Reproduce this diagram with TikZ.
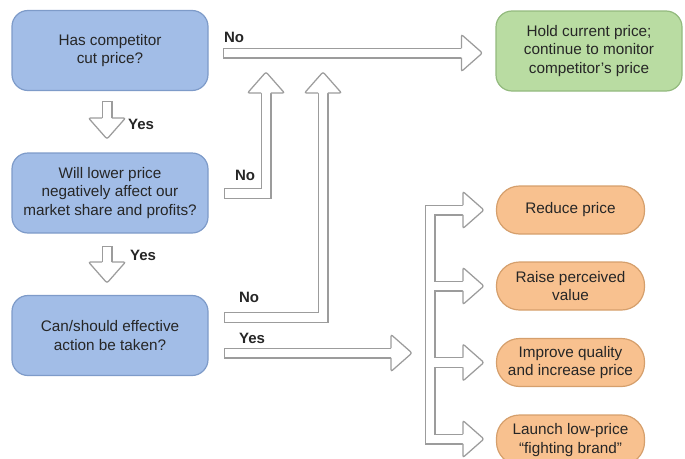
\documentclass[tikz,border=0pt]{standalone}
\usepackage{fontspec}
\setmainfont{Liberation Sans}
\usetikzlibrary{calc}

\definecolor{qfill}{HTML}{A2BDE7}
\definecolor{qdraw}{HTML}{7E9BC9}
\definecolor{gfill}{HTML}{B9DCA2}
\definecolor{gdraw}{HTML}{93BA7E}
\definecolor{ofill}{HTML}{F8C18F}
\definecolor{odraw}{HTML}{D59F6C}
\definecolor{txt}{HTML}{262626}
\definecolor{arrowline}{HTML}{9C9C9C}

\tikzset{
  boxtext/.style={font=\fontsize{15.3}{18.5}\selectfont, text=txt, align=center},
  question/.style={boxtext, draw=qdraw, fill=qfill, line width=1.2pt,
    rounded corners=16pt, minimum width=196pt, minimum height=80pt, inner sep=0pt},
  outcome/.style={boxtext, draw=gdraw, fill=gfill, line width=1.2pt,
    rounded corners=16pt, minimum width=186pt, minimum height=80pt, inner sep=0pt},
  action/.style={boxtext, draw=odraw, fill=ofill, line width=1.2pt,
    rounded corners=23pt, minimum width=148pt, minimum height=48pt, inner sep=0pt},
  lbl/.style={font=\bfseries\fontsize{15}{17}\selectfont, text=txt, inner sep=0pt},
  % hollow block-arrow shaft: grey outer stroke, white core
  shaft/.style={draw=white, line width=8.5pt, line cap=rect,
    preaction={draw=arrowline, line width=11pt, line cap=rect}},
  bhead/.pic={
    \filldraw[fill=white, draw=arrowline, line width=1.25pt, rounded corners=2pt]
      (0,4.875) -- (0,18.5) -- (21,0) -- (0,-18.5) -- (0,-4.875);
  }
}

\begin{document}
\begin{tikzpicture}[x=1pt, y=-1pt]
\useasboundingbox (0,0) rectangle (685,458);

% decision boxes
\node[question] (q1) at (110,50.5) {Has competitor\\cut price?};
\node[question] (q2) at (110,193) {Will lower price\\negatively affect our\\market share and profits?};
\node[question] (q3) at (110,335.5) {Can/should effective\\action be taken?};

% outcome boxes
\node[outcome] (hold) at (589,51) {Hold current price;\\continue to monitor\\competitor's price};
\node[action] (o1) at (570.5,210) {Reduce price};
\node[action] (o2) at (570.5,286) {Raise perceived\\value};
\node[action] (o3) at (570.5,362.5) {Improve quality\\and increase price};
\node[action] (o4) at (570.5,440) [minimum height=50pt] {Launch low-price\\``fighting brand''};

% arrow-head bases
\coordinate (hN)  at ($(hold.west)+(-34,2)$);
\coordinate (hU1) at (266,93);
\coordinate (hU2) at (323,93);
\coordinate (hY)  at (391,353);
\coordinate (hD1) at (107,118);
\coordinate (hD2) at (107,262);
\coordinate (b1) at ($(o1.west)+(-33,0)$);
\coordinate (b2) at ($(o2.west)+(-33,0)$);
\coordinate (b3) at ($(o3.west)+(-33,0)$);
\coordinate (b4) at ($(o4.west)+(-33,-1)$);
\coordinate (bx) at (430,0);

% shafts
\draw[shaft] ($(q1.east)+(19.5,2.5)$) -- (hN);
\draw[shaft] ($(q2.east)+(20.5,0.5)$) -| (hU1);
\draw[shaft] ($(q3.east)+(20.5,-18)$) -| (hU2);
\draw[shaft] ($(q3.east)+(20.5,17.5)$) -- (hY);
\draw[shaft] ($(q1.south)+(-3,15.5)$) -- (hD1);
\draw[shaft] ($(q2.south)+(-3,17.5)$) -- (hD2);
\draw[shaft] (b1) -- (b1 -| bx) -- (b4 -| bx) -- (b4)
             (b2 -| bx) -- (b2) (b3 -| bx) -- (b3);

% arrow heads
\pic at (hN) {bhead};
\pic[rotate=90] at (hU1) {bhead};
\pic[rotate=90] at (hU2) {bhead};
\pic at (hY) {bhead};
\pic[rotate=-90] at (hD1) {bhead};
\pic[rotate=-90] at (hD2) {bhead};
\pic at (b1) {bhead};
\pic at (b2) {bhead};
\pic at (b3) {bhead};
\pic at (b4) {bhead};

% branch labels
\node[lbl] (n1) at (234,37) {No};
\node[lbl] (n2) at (245,175) {No};
\node[lbl] (n3) at (249,297) {No};
\node[lbl] (y1) at (252,338) {Yes};
\node[lbl] (y2) at (141,124) {Yes};
\node[lbl] (y3) at (143,255) {Yes};
\end{tikzpicture}
\end{document}
